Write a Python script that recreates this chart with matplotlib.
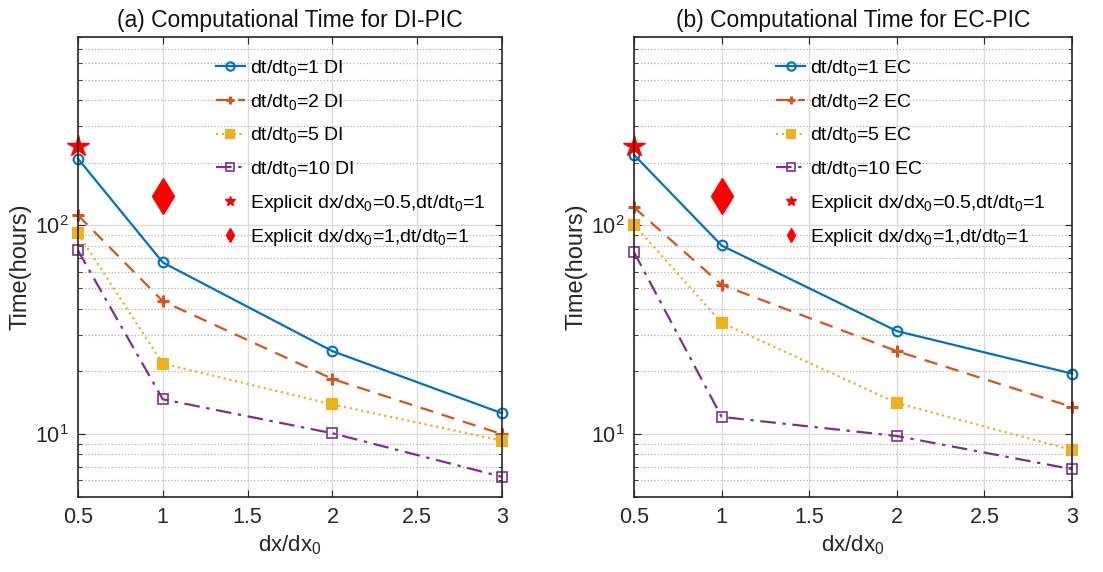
import matplotlib
matplotlib.use('Agg')
import matplotlib.pyplot as plt

plt.rcParams['font.family'] = ['Liberation Sans', 'DejaVu Sans']
plt.rcParams['mathtext.fontset'] = 'custom'
plt.rcParams['mathtext.rm'] = 'Liberation Sans'
plt.rcParams['mathtext.default'] = 'regular'

# data
dx = [0.5, 1, 2, 3]
di_dt1 = [209, 66.5, 25.0, 12.6]
di_dt2 = [112, 43.4, 18.4, 10.0]
di_dt5 = [91.6, 21.8, 13.9, 9.3]
di_dt10 = [75.9, 14.7, 10.1, 6.25]
ec_dt1 = [218, 80.2, 31.2, 19.5]
ec_dt2 = [122, 52, 25.0, 13.5]
ec_dt5 = [101, 34.2, 14.1, 8.4]
ec_dt10 = [74.5, 12.1, 9.8, 6.8]
explicit_half = [0.5, 241]
explicit_one = [1, 139]

colors = ['#0072BD', '#D95319', '#EDB120', '#7E2F8E']

fig = plt.figure(figsize=(11.03, 5.72), dpi=100)
ax1 = fig.add_axes([0.0707, 0.1311, 0.3844, 0.8042])
ax2 = fig.add_axes([0.5748, 0.1311, 0.3971, 0.8042])


def draw(ax, series, tag, title):
    ax.plot(dx, series[0], '-', color=colors[0], marker='o', mfc='none', ms=7, mew=1.5, lw=1.6,
            clip_on=False, label='dt/dt$_0$=1 ' + tag)
    ax.plot(dx, series[1], '--', color=colors[1], marker='+', ms=9, mew=2.2, lw=1.6, dashes=(6, 4),
            clip_on=False, label='dt/dt$_0$=2 ' + tag)
    ax.plot(dx, series[2], ':', color=colors[2], marker='s', ms=6.5, mew=1.5, lw=1.6,
            clip_on=False, label='dt/dt$_0$=5 ' + tag)
    ax.plot(dx, series[3], '-.', color=colors[3], marker='s', mfc='none', ms=6.5, mew=1.2, lw=1.6,
            dashes=(7, 3, 1.5, 3), clip_on=False, label='dt/dt$_0$=10 ' + tag)
    ax.plot(explicit_half[0], explicit_half[1], '*', color='red', ms=16, ls='none', clip_on=False,
            label='Explicit dx/dx$_0$=0.5,dt/dt$_0$=1')
    ax.plot(explicit_one[0], explicit_one[1], 'd', color='red', ms=18, ls='none', clip_on=False,
            label='Explicit dx/dx$_0$=1,dt/dt$_0$=1')

    ax.set_yscale('log')
    ax.set_xlim(0.5, 3)
    ax.set_ylim(5, 800)
    ax.set_xticks([0.5, 1, 1.5, 2, 2.5, 3])
    ax.set_xticklabels(['0.5', '1', '1.5', '2', '2.5', '3'])
    ax.grid(True, which='major', color='#dcdcdc', lw=1, ls='-')
    ax.grid(True, which='minor', axis='y', color='#b0b0b0', lw=0.9, ls=':')
    ax.set_axisbelow(True)
    ax.tick_params(which='both', direction='in', top=True, right=True, labelsize=15.5,
                   color='#262626', labelcolor='#262626', pad=7)
    ax.tick_params(which='major', length=5)
    ax.tick_params(which='minor', length=3)
    for sp in ax.spines.values():
        sp.set_color('#262626')
        sp.set_linewidth(1.2)
    ax.set_xlabel('dx/dx$_0$', fontsize=16, color='#262626', labelpad=4)
    ax.set_ylabel('Time(hours)', fontsize=17, color='#262626', labelpad=2)
    ax.set_title(title, fontsize=16.5, color='#111111', pad=7)

    leg = ax.legend(loc='upper left', bbox_to_anchor=(0.302, 0.975), frameon=False,
                    fontsize=14, handlelength=1.5, handletextpad=0.25, labelspacing=0.7,
                    borderpad=0, markerscale=1.0)
    for h in leg.legend_handles[:4]:
        h.set_markersize(6)
    for h in leg.legend_handles[4:]:
        h.set_markersize(7)
    return leg


draw(ax1, [di_dt1, di_dt2, di_dt5, di_dt10], 'DI', '(a) Computational Time for DI-PIC')
draw(ax2, [ec_dt1, ec_dt2, ec_dt5, ec_dt10], 'EC', '(b) Computational Time for EC-PIC')

fig.savefig('out.png', dpi=100)
